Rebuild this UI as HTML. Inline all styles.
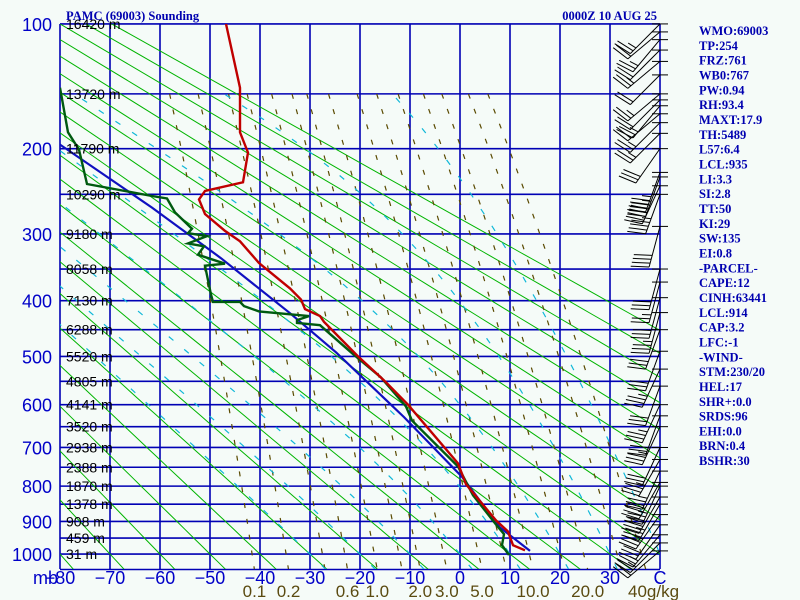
<!DOCTYPE html>
<html><head><meta charset="utf-8">
<style>
html,body{margin:0;padding:0;background:#f5fbf8;}
svg{display:block;}
.st{font-family:"Liberation Serif",serif;font-weight:bold;font-size:12.5px;fill:#0000b0;}
.ax{font-family:"Liberation Sans",sans-serif;font-size:18px;fill:#0000c8;}
.ht{font-family:"Liberation Sans",sans-serif;font-size:14px;fill:#000;}
.mr{font-family:"Liberation Sans",sans-serif;font-size:17px;fill:#5a4a10;}
</style></head>
<body>
<svg id="chart" width="800" height="600" viewBox="0 0 800 600" xmlns="http://www.w3.org/2000/svg">
<rect width="800" height="600" fill="#f5fbf8"/>
<defs><clipPath id="plotclip"><rect x="60" y="24" width="600" height="545"/></clipPath></defs>
<g id="grid"></g>
<g id="series" clip-path="url(#plotclip)"></g>
<g id="barbs"></g>
<g id="labels"></g>
<text class="st" x="66" y="20">PAMC (69003) Sounding</text>
<text class="st" x="657" y="20" text-anchor="end">0000Z 10 AUG 25</text>
<g id="stats"></g>
</svg>
<script>
const NS="http://www.w3.org/2000/svg";
// ---- data ----
const pressureTicks=[100,200,300,400,500,600,700,800,900,1000];
const heightLevels=[100,150,200,250,300,350,400,450,500,550,600,650,700,750,800,850,900,950,1000];
const heightLabels=["16420 m","13720 m","11790 m","10290 m","9180 m","8058 m","7130 m","6288 m","5520 m","4805 m","4141 m","3520 m","2938 m","2388 m","1870 m","1378 m","908 m","459 m","31 m"];
const tempTicks=[-80,-70,-60,-50,-40,-30,-20,-10,0,10,20,30];
const mixRatios=[0.1,0.2,0.4,0.6,1,1.5,2,3,5,7,10,15,20,30,40];
const mixLabels=[0.1,0.2,0.6,1.0,2.0,3.0,5.0,10.0,20.0];
const dryThetas=[-80,-70,-60,-50,-40,-30,-20,-10,0,10,20,30,40,50,60,70,80,90,100,110,120];
const moistStarts=[-30,-20,-10,0,10,20,30,40];
const tempP=[100,145,184,204,236,246,256,274,296,310,341,380,398,414,426,436,500,550,600,740,795,897,930,972,988];
const tempT=[-46.8,-44,-44,-42.4,-43.4,-51,-52.2,-51,-47,-44,-40.2,-34,-31.8,-31,-28,-27.2,-20.4,-15,-10.4,-0.4,1.2,7.2,9.6,10.6,13];
const dewP=[145,184,201,238,252,255,272,293,299,303,313,317,329,342,345,390,402,402,409,418,424,426,433,438,442,492,542,604,636,748,825,909,938,972,1003];
const dewT=[-80,-78.4,-76.2,-74.6,-61.6,-58.6,-57,-53.6,-54.4,-50.6,-54.4,-51.2,-52.4,-47,-51,-49.8,-49.4,-44,-43.2,-40.2,-32.6,-30.2,-32.6,-32.6,-28,-21.8,-15.8,-10.8,-9.6,-0.4,2.6,7.2,8.8,8.4,9.8];
const parcelP=[196,266,334,421,492,628,775,918,990];
const parcelT=[-80,-61.6,-47.8,-34,-24.8,-11.2,0.4,8,14];
const barbP=[100,105,110,117,125,135,150,155,160,167,175,185,200,225,230,240,250,290,350,370,395,420,450,490,525,560,600,625,650,700,730,760,790,800,830,850,880,910,940,965,990];
const barbDir=[225,230,220,225,230,225,230,225,220,230,225,225,215,200,200,205,200,195,195,195,195,195,200,200,205,200,205,200,205,205,210,205,210,205,210,210,215,215,220,225,230];
const barbSpd=[25,20,25,20,25,20,25,20,25,20,25,25,30,45,45,50,45,40,30,25,30,35,30,30,35,30,35,30,35,30,35,35,40,35,40,35,35,30,25,25,20];
const stats=["WMO:69003","TP:254","FRZ:761","WB0:767","PW:0.94","RH:93.4","MAXT:17.9","TH:5489","L57:6.4","LCL:935","LI:3.3","SI:2.8","TT:50","KI:29","SW:135","EI:0.8","-PARCEL-","CAPE:12","CINH:63441","LCL:914","CAP:3.2","LFC:-1","-WIND-","STM:230/20","HEL:17","SHR+:0.0","SRDS:96","EHI:0.0","BRN:0.4","BSHR:30"];
// ---- axes ----
function yP(p){return 24+152.4*(Math.pow(p,0.286)-3.733);}
function xT(t){return 460+5*t;}
function mk(tag,attrs,parent){const e=document.createElementNS(NS,tag);for(const k in attrs)e.setAttribute(k,attrs[k]);parent.appendChild(e);return e;}
const grid=document.getElementById('grid'),ser=document.getElementById('series'),lab=document.getElementById('labels'),bg=document.getElementById('barbs'),sg=document.getElementById('stats');
function pts(arrP,arrT){return arrP.map((p,i)=>xT(arrT[i]).toFixed(1)+","+yP(arrP[i]).toFixed(1)).join(" ");}
// dry adiabats
dryThetas.forEach(th=>{const a=[];for(let p=100;p<=1050;p+=25){a.push(p);}
 const T=a.map(p=>(th+273.15)*Math.pow(p/1000,0.286)-273.15);
 const l=mk('polyline',{points:pts(a,T),fill:'none',stroke:'#00b400','stroke-width':1},ser);
 
 });
// mixing ratio lines
function tdFromE(e){const l=Math.log(e/6.112);return 243.5*l/(17.67-l);}
mixRatios.forEach(w=>{const a=[];for(let p=150;p<=1050;p+=25)a.push(p);
 const T=a.map(p=>tdFromE(w*p/(622+w)));
 const l=mk('polyline',{points:pts(a,T),fill:'none',stroke:'#5a4a00','stroke-width':1.2,'stroke-dasharray':'5,11'},ser);
 
 });
// moist adiabats
function es(T){return 6.112*Math.exp(17.67*T/(T+243.5));}
function moist(t0){const out={p:[],t:[]};const T=t0+273.15;const Rd=287,cp=1004,Lv=2.5e6,eps=0.622;
 function dTdp(T,p){const rs=eps*es(T-273.15)/(p-es(T-273.15));return (Rd*T+Lv*rs)/(p*(cp+Lv*Lv*rs*eps/(Rd*T*T)));}
 let Tt=T;for(let q=1000;q<1050;q+=5){Tt+=dTdp(Tt,q)*5;}
 out.p.push(1050);out.t.push(Tt-273.15);
 Tt=T;for(let q=1000;q>=150;q-=5){if(q%25===0){out.p.push(q);out.t.push(Tt-273.15);}Tt-=dTdp(Tt,q)*5;}
 return out;}
moistStarts.forEach(t0=>{const m=moist(t0);
 const l=mk('polyline',{points:pts(m.p,m.t),fill:'none',stroke:'#10b8d8','stroke-width':1.2,'stroke-dasharray':'6,14'},ser);
 
 });
// grid lines
heightLevels.concat([1050]).forEach(p=>{const l=mk('line',{x1:60,x2:660,y1:yP(p),y2:yP(p),stroke:'#0000b4','stroke-width':1.6},grid);
 
 });
tempTicks.concat([40]).forEach(t=>{const l=mk('line',{x1:xT(t),x2:xT(t),y1:24,y2:569,stroke:'#0000b4','stroke-width':1.6},grid);
 
 });
// profiles
const par=mk('polyline',{points:pts(parcelP,parcelT),fill:'none',stroke:'#1010c0','stroke-width':2.2},ser);


const dew=mk('polyline',{points:pts(dewP,dewT),fill:'none',stroke:'#005a10','stroke-width':2.4},ser);


const tmp=mk('polyline',{points:pts(tempP,tempT),fill:'none',stroke:'#c00000','stroke-width':2.4},ser);


// labels
pressureTicks.forEach(p=>{const t=mk('text',{x:52,y:yP(p)+7,'text-anchor':'end',class:'ax'},lab);t.textContent=p;
 
 });
heightLevels.forEach((p,i)=>{const t=mk('text',{x:66,y:yP(p)+5,class:'ht'},lab);t.textContent=heightLabels[i];
 
 });
const mbt=mk('text',{x:33,y:584,class:'ax'},lab);mbt.textContent="mb";


tempTicks.forEach(tv=>{const t=mk('text',{x:xT(tv),y:584,'text-anchor':'middle',class:'ax'},lab);t.textContent=(tv<0?"\u2212"+(-tv):tv);
 
 });
const ct=mk('text',{x:660,y:584,'text-anchor':'middle',class:'ax'},lab);ct.textContent="C";


mixLabels.forEach(w=>{const t=mk('text',{x:xT(tdFromE(w*1050/(622+w))),y:597,'text-anchor':'middle',class:'mr'},lab);t.textContent=w.toFixed(1);
 
 });
const gk=mk('text',{x:628,y:597,class:'mr'},lab);gk.textContent="40g/kg";


// barbs
barbP.forEach((p,i)=>{const y=yP(p),d=barbDir[i]*Math.PI/180,L=42;
 const a=Math.sin(d),b=-Math.cos(d);const ex=660+a*L,ey=y+b*L;
 const tk=mk('line',{x1:652,x2:668,y1:y,y2:y,stroke:'#000','stroke-width':1},bg);
 
 
 let s='M660,'+y.toFixed(1)+' L'+ex.toFixed(1)+','+ey.toFixed(1);
 let spd=barbSpd[i],k=0;const fx=-b,fy=a;
 while(spd>=10){const sx=ex-a*k*4,sy=ey-b*k*4;s+=' M'+sx.toFixed(1)+','+sy.toFixed(1)+' l'+(fx*18+a*4).toFixed(1)+','+(fy*18+b*4).toFixed(1);spd-=10;k++;}
 if(spd>=5){const sx=ex-a*k*4,sy=ey-b*k*4;s+=' M'+sx.toFixed(1)+','+sy.toFixed(1)+' l'+(fx*9+a*2).toFixed(1)+','+(fy*9+b*2).toFixed(1);}
 const bp=mk('path',{d:s,fill:'none',stroke:'#000','stroke-width':1},bg);
 
 });
// stats
stats.forEach((s,i)=>{const t=mk('text',{x:699,y:35+i*14.83,class:'st'},sg);t.textContent=s;
 
 });
</script>
</body></html>
